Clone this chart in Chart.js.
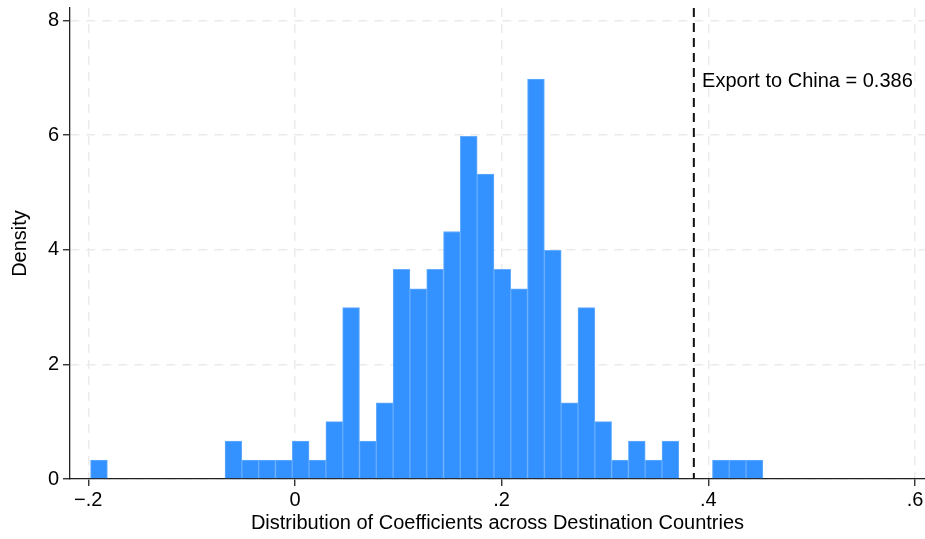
<!DOCTYPE html>
<html>
<head>
<meta charset="utf-8">
<script src="https://cdn.jsdelivr.net/npm/chart.js@4.4.1/dist/chart.umd.min.js"></script>
<style>
  html, body { margin: 0; padding: 0; background: #fff; }
  canvas { display: block; }
</style>
</head>
<body>
<canvas id="histChart" width="925" height="539"></canvas>
<script>
// 40 equal-width bins, starting at the smallest coefficient
const binStart = -0.1978;
const binWidth = 0.016265;

// density of each bin, left to right
const density = [
  0.33, 0, 0, 0, 0, 0, 0, 0, 0.66, 0.33,
  0.33, 0.33, 0.66, 0.33, 1.00, 2.99, 0.66, 1.33, 3.66, 3.32,
  3.66, 4.32, 5.98, 5.32, 3.66, 3.32, 6.98, 3.99, 1.33, 2.99,
  1.00, 0.33, 0.66, 0.33, 0.66, 0, 0, 0.33, 0.33, 0.33
];

const xTicks = [-0.2, 0, 0.2, 0.4, 0.6];
const xTickLabels = ['\u2212.2', '0', '.2', '.4', '.6'];
const yTicks = [0, 2, 4, 6, 8];

// reference line for exports to China
const chinaValue = 0.386;
const chinaText = 'Export to China = 0.386';
const chinaTextPos = { x: 0.394, y: 6.93 };

const FONT = "'Liberation Sans', Arial, Helvetica, sans-serif";
Chart.defaults.font.family = FONT;
Chart.defaults.font.size = 20;
Chart.defaults.color = '#000';

const binCentres = density.map((_, i) => binStart + (i + 0.5) * binWidth);

const gridStyle = {
  color: '#ebebeb',
  lineWidth: 1.5,
  tickColor: '#222',
  tickWidth: 1.3,
  tickLength: 7,
  tickBorderDash: [],
  offset: false
};
const borderStyle = { display: true, color: '#222', width: 1.3, dash: [9, 7] };

// fixed axis boxes, no extra room for overhanging labels
function fixBox(size) {
  return s => {
    if (s.isHorizontal()) s.height = size; else s.width = size;
    s.paddingTop = s.paddingBottom = s.paddingLeft = s.paddingRight = 0;
  };
}

const chinaLine = {
  id: 'chinaLine',
  afterDatasetsDraw(chart) {
    const { ctx, chartArea, scales: { x, y } } = chart;
    const px = x.getPixelForValue(chinaValue);
    ctx.save();
    ctx.strokeStyle = '#111';
    ctx.lineWidth = 2;
    ctx.setLineDash([9, 6]);
    ctx.beginPath();
    ctx.moveTo(px, chartArea.top);
    ctx.lineTo(px, chartArea.bottom);
    ctx.stroke();
    ctx.setLineDash([]);
    ctx.fillStyle = '#000';
    ctx.font = '20px ' + FONT;
    ctx.textAlign = 'left';
    ctx.textBaseline = 'middle';
    ctx.fillText(chinaText, x.getPixelForValue(chinaTextPos.x), y.getPixelForValue(chinaTextPos.y));
    ctx.restore();
  }
};

new Chart(document.getElementById('histChart'), {
  type: 'bar',
  data: {
    datasets: [{
      data: binCentres.map((c, i) => ({ x: c, y: density[i] || null })),
      backgroundColor: 'rgb(51,146,255)',
      borderColor: 'rgb(100,172,255)',
      borderWidth: 1,
      barPercentage: 1,
      categoryPercentage: 1
    }]
  },
  options: {
    responsive: false,
    animation: false,
    layout: { padding: { top: 8, right: 0, bottom: 0, left: 0 } },
    plugins: { legend: { display: false }, tooltip: { enabled: false } },
    scales: {
      x: {
        type: 'linear',
        offset: false,
        min: -0.2177,
        max: 0.6097,
        afterBuildTicks: s => { s.ticks = xTicks.map(v => ({ value: v })); },
        afterFit: fixBox(60),
        ticks: {
          padding: 2,
          maxRotation: 0,
          callback: v => xTickLabels[xTicks.indexOf(v)]
        },
        grid: gridStyle,
        border: borderStyle,
        title: {
          display: true,
          text: 'Distribution of Coefficients across Destination Countries',
          font: { size: 20 },
          padding: { top: 0, bottom: 4 }
        }
      },
      y: {
        min: 0,
        max: 8.22,
        afterBuildTicks: s => { s.ticks = yTicks.map(v => ({ value: v })); },
        afterFit: fixBox(70),
        ticks: { padding: 4 },
        grid: gridStyle,
        border: borderStyle,
        title: {
          display: true,
          text: 'Density',
          font: { size: 20 },
          padding: { top: 8, bottom: 0 }
        }
      }
    }
  },
  plugins: [chinaLine]
});
</script>
</body>
</html>
